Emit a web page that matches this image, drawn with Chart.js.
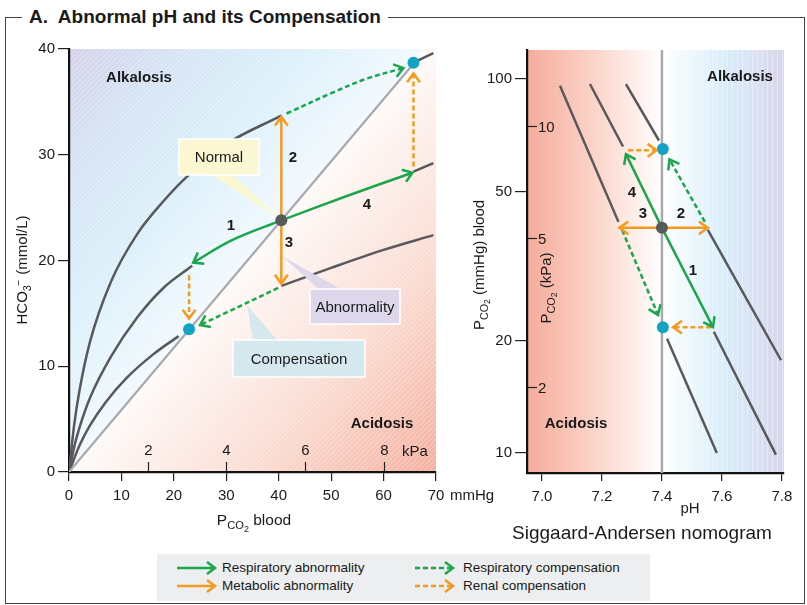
<!DOCTYPE html>
<html>
<head>
<meta charset="utf-8">
<script src="https://cdn.jsdelivr.net/npm/chart.js@4.4.1/dist/chart.umd.min.js"></script>
<style>
body{margin:0;background:#fff;font-family:"Liberation Sans",Arial,sans-serif;color:#1a1a1a}
#wrap{position:relative;width:807px;height:605px;overflow:hidden}
canvas{position:absolute;left:0;top:0}
.t{position:absolute;white-space:nowrap;width:300px;height:22px;margin-left:-150px;margin-top:-11px;text-align:center;font-size:15px;line-height:22px;color:#1a1a1a}
.b{font-weight:bold}
.r{transform:rotate(-90deg)}
.sub{font-size:0.72em;position:relative;top:0.35em}
.sub2{font-size:0.8em;position:relative;top:0.3em}
#frame{position:absolute;left:5px;top:17px;width:800px;height:587px;border:1.5px solid #444;box-sizing:border-box}
#title{position:absolute;left:22px;top:5px;background:#fff;padding:0 7px;font-weight:bold;font-size:19px;line-height:23px}
#legend{position:absolute;left:157px;top:554px;width:493px;height:47px;background:#eceeef}
.lg{position:absolute;font-size:13.5px;line-height:16px;margin-top:-8px}
</style>
</head>
<body>
<div id="wrap">
  <div id="frame"></div>
  <div id="title">A.&nbsp; Abnormal pH and its Compensation</div>
  <canvas id="cL" width="807" height="605"></canvas>
  <canvas id="cR" width="807" height="605"></canvas>

  <div class="t r" style="left:22px;top:270px">HCO<span class="sub">3</span><span style="font-size:0.72em;position:relative;top:-0.45em;left:-0.1em">&minus;</span> (mmol/L)</div>
  <div class="t" style="left:254px;top:520px;font-size:15.5px">P<span class="sub">CO<span class="sub2">2</span></span> blood</div>
  <div class="t" style="left:472px;top:495px">mmHg</div>
  <div class="t b" style="left:139px;top:77px">Alkalosis</div>
  <div class="t b" style="left:382px;top:423px">Acidosis</div>
  <div class="t" style="left:415px;top:451px">kPa</div>
  <div class="t b" style="left:231px;top:225px">1</div>
  <div class="t b" style="left:293px;top:157px">2</div>
  <div class="t b" style="left:289px;top:242px">3</div>
  <div class="t b" style="left:367px;top:204px">4</div>

  <div class="t r" style="left:479px;top:265px">P<span class="sub">CO<span class="sub2">2</span></span> (mmHg) blood</div>
  <div class="t r" style="left:546px;top:288px">P<span class="sub">CO<span class="sub2">2</span></span> (kPa)</div>
  <div class="t b" style="left:740px;top:76px">Alkalosis</div>
  <div class="t b" style="left:576px;top:423px">Acidosis</div>
  <div class="t b" style="left:693px;top:270px">1</div>
  <div class="t b" style="left:681px;top:213px">2</div>
  <div class="t b" style="left:643px;top:213px">3</div>
  <div class="t b" style="left:632px;top:192px">4</div>
  <div class="t" style="left:690px;top:508px">pH</div>
  <div class="t" style="left:642px;top:533px;font-size:19px">Siggaard-Andersen nomogram</div>

  <div id="legend">
    <svg width="493" height="47" style="position:absolute;left:0;top:0">
      <g fill="none" stroke-width="2.5">
        <path d="M20 14 H58 M50 8 L58 14 L50 20" stroke="#1aa64a"/>
        <path d="M20 32 H58 M50 26 L58 32 L50 38" stroke="#f49a1f"/>
        <path d="M258 14 H296" stroke="#1aa64a" stroke-dasharray="5 3"/>
        <path d="M288 8 L296 14 L288 20" stroke="#1aa64a"/>
        <path d="M258 32 H296" stroke="#f49a1f" stroke-dasharray="5 3"/>
        <path d="M288 26 L296 32 L288 38" stroke="#f49a1f"/>
      </g>
    </svg>
    <div class="lg" style="left:65px;top:14px">Respiratory abnormality</div>
    <div class="lg" style="left:65px;top:32px">Metabolic abnormality</div>
    <div class="lg" style="left:306px;top:14px">Respiratory compensation</div>
    <div class="lg" style="left:306px;top:32px">Renal compensation</div>
  </div>
</div>

<script>
// ---- left panel: HCO3- (mmol/L) against PCO2 (mmHg) ----
var xTicksL = [0, 10, 20, 30, 40, 50, 60, 70];
var yTicksL = [0, 10, 20, 30, 40];
var kPaTicksL = [2, 4, 6, 8];
var isoLine74 = [[0, 0], [65.7, 38.6]];
var topCurveA = [[0, 0], [1, 4.5], [2, 7.7], [4, 12.3], [8, 18], [13, 22.5], [18, 25.6], [22, 27.7], [30, 31], [40.5, 33.7]];
var topCurveB = [[65.7, 38.7], [69.5, 39.6]];
var midCurveA = [[0, 0], [1, 2.4], [2, 4.2], [4, 7], [8, 10.9], [13, 14.6], [18, 17.4], [23.5, 19.5]];
var midCurveB = [[65.7, 28.4], [69.5, 29.2]];
var lowCurveA = [[0, 0], [2, 2.5], [4, 4.4], [7, 6.6], [11, 8.9], [16, 11.1], [20.9, 12.85]];
var lowCurveB = [[40.5, 17.6], [50, 19.3], [60, 21], [69.5, 22.4]];
var respAbnL1 = [[40.5, 23.8], [31, 21.9], [23.7, 19.8]];
var respAbnL4 = [[40.5, 23.8], [53, 26.1], [65.5, 28.3]];
var metAbnL2 = [[40.5, 23.8], [40.5, 33.6]];
var metAbnL3 = [[40.5, 23.8], [40.5, 17.8]];
var respCompL3 = [[39.9, 17.4], [25, 13.9]];
var respCompL2 = [[41.5, 33.9], [50.4, 35.9], [56.8, 37.2], [63.8, 38.2]];
var renalCompL1 = [[22.9, 18.6], [22.9, 14.5]];
var renalCompL4 = [[65.7, 28.9], [65.7, 37.7]];
var normalL = [[40.5, 23.8]];
var compPointsL = [[22.9, 13.5], [65.7, 38.7]];

// ---- right panel: Siggaard-Andersen, PCO2 (mmHg, log) against pH ----
var xTicksR = [7.0, 7.2, 7.4, 7.6, 7.8];
var yTicksR = [10, 20, 50, 100];
var kPaTicksR = [10, 5, 2];
var normalPH = [[7.4, 8.84], [7.4, 119.6]];
var bufA = [[7.06, 96], [7.255, 41.5]];
var bufB = [[7.16, 97], [7.27, 66]];
var bufC = [[7.28, 97], [7.39, 68.5]];
var bufD = [[7.553, 39.5], [7.797, 17.7]];
var bufE = [[7.573, 21.1], [7.78, 9.9]];
var bufF = [[7.417, 20.2], [7.583, 10]];
var respAbnR1 = [[7.4, 40], [7.57, 21.7]];
var respAbnR4 = [[7.4, 40], [7.28, 63]];
var metAbnR2 = [[7.4, 40], [7.553, 40]];
var metAbnR3 = [[7.4, 40], [7.258, 40]];
var respCompR2 = [[7.543, 41.5], [7.425, 61]];
var respCompR3 = [[7.267, 39.5], [7.387, 23.4]];
var renalCompR1 = [[7.565, 21.7], [7.437, 21.7]];
var renalCompR4 = [[7.287, 64.5], [7.382, 64.5]];
var normalR = [[7.4, 40]];
var compPointsR = [[7.403, 65], [7.403, 21.7]];

var GREEN = '#1aa64a', ORANGE = '#f49a1f', CURVE = '#58595b', GREY = '#a7a9ac', CYAN = '#12a2c4';

Chart.defaults.font.family = '"Liberation Sans", Arial, sans-serif';
Chart.defaults.color = '#1a1a1a';

function xy(a) {
  return a.map(function (p) { return { x: p[0], y: p[1] }; });
}

function curve(a, color, w) {
  return { data: xy(a), showLine: true, borderColor: color, borderWidth: w || 2.5, pointRadius: 0,
    cubicInterpolationMode: 'monotone', layer: 'curve', order: 5 };
}

function arrow(a, color, dashed) {
  return { data: xy(a), showLine: true, borderColor: color, borderWidth: 2.5, pointRadius: 0,
    tension: 0.35, borderDash: dashed ? [5, 3] : [], arrow: true, layer: 'arrow', order: 2 };
}

function dots(a, color) {
  return { data: xy(a), showLine: false, pointRadius: 6, pointBackgroundColor: color,
    pointBorderWidth: 0, layer: 'point', order: 1 };
}

function hatch(kind) {
  var c = document.createElement('canvas');
  c.width = 5; c.height = 5;
  var g = c.getContext('2d');
  g.strokeStyle = 'rgba(255,255,255,0.35)';
  g.lineWidth = 1;
  g.beginPath();
  if (kind === 'diag') { g.moveTo(0, 5); g.lineTo(5, 0); }
  else { g.moveTo(2.5, 0); g.lineTo(2.5, 5); }
  g.stroke();
  return c;
}

var arrowHeads = {
  id: 'arrowHeads',
  afterDatasetsDraw: function (chart) {
    var ctx = chart.ctx;
    chart.data.datasets.forEach(function (ds, i) {
      if (!ds.arrow) return;
      var pts = chart.getDatasetMeta(i).data;
      var a = pts[pts.length - 2], b = pts[pts.length - 1];
      var ang = Math.atan2(b.y - a.y, b.x - a.x), L = 11, w = 0.62;
      ctx.save();
      ctx.strokeStyle = ds.borderColor;
      ctx.lineWidth = ds.borderWidth;
      ctx.beginPath();
      ctx.moveTo(b.x - L * Math.cos(ang - w), b.y - L * Math.sin(ang - w));
      ctx.lineTo(b.x, b.y);
      ctx.lineTo(b.x - L * Math.cos(ang + w), b.y - L * Math.sin(ang + w));
      ctx.stroke();
      ctx.restore();
    });
  }
};

// callout boxes sit above the curves but under the arrows
function callout(ctx, box, tip, base, fill, text) {
  ctx.save();
  ctx.fillStyle = fill;
  ctx.strokeStyle = '#fff';
  ctx.lineWidth = 1.5;
  ctx.beginPath();
  ctx.moveTo(base[0], base[1]); ctx.lineTo(tip[0], tip[1]); ctx.lineTo(base[2], base[3]);
  ctx.closePath();
  ctx.fill();
  ctx.fillRect(box[0], box[1], box[2], box[3]);
  ctx.strokeRect(box[0], box[1], box[2], box[3]);
  ctx.fillStyle = '#1a1a1a';
  ctx.font = '15px "Liberation Sans", Arial, sans-serif';
  ctx.textAlign = 'center';
  ctx.textBaseline = 'middle';
  ctx.fillText(text, box[0] + box[2] / 2, box[1] + box[3] / 2 + 1);
  ctx.restore();
}

var leftDeco = {
  id: 'leftDeco',
  beforeDraw: function (chart) {
    var ca = chart.chartArea, ctx = chart.ctx, xs = chart.scales.x, ys = chart.scales.y;
    var p0 = { x: xs.getPixelForValue(isoLine74[0][0]), y: ys.getPixelForValue(isoLine74[0][1]) };
    var p1 = { x: xs.getPixelForValue(isoLine74[1][0]), y: ys.getPixelForValue(isoLine74[1][1]) };
    var dx = p1.x - p0.x, dy = p1.y - p0.y, len = Math.hypot(dx, dy);
    var nx = dy / len, ny = -dx / len;
    var xt = p0.x + (ca.top - p0.y) / dy * dx;
    var dB = (ca.left - p0.x) * nx + (ca.top - p0.y) * ny;
    var gB = ctx.createLinearGradient(p0.x, p0.y, p0.x + nx * dB, p0.y + ny * dB);
    gB.addColorStop(0, '#f2f9fe');
    gB.addColorStop(0.35, '#dcf0fb');
    gB.addColorStop(0.7, '#d6e4f4');
    gB.addColorStop(1, '#d5d2ea');
    var dP = (ca.right - p0.x) * -nx + (ca.bottom - p0.y) * -ny;
    var gP = ctx.createLinearGradient(p0.x, p0.y, p0.x - nx * dP, p0.y - ny * dP);
    gP.addColorStop(0, '#fefaf8');
    gP.addColorStop(0.5, '#fbdcd2');
    gP.addColorStop(1, '#f5b09f');
    ctx.save();
    ctx.fillStyle = gB;
    ctx.beginPath();
    ctx.moveTo(ca.left, ca.bottom); ctx.lineTo(ca.left, ca.top); ctx.lineTo(xt, ca.top);
    ctx.closePath(); ctx.fill();
    ctx.fillStyle = gP;
    ctx.beginPath();
    ctx.moveTo(ca.left, ca.bottom); ctx.lineTo(xt, ca.top); ctx.lineTo(ca.right, ca.top); ctx.lineTo(ca.right, ca.bottom);
    ctx.closePath(); ctx.fill();
    ctx.fillStyle = ctx.createPattern(hatch('diag'), 'repeat');
    ctx.fillRect(ca.left, ca.top, ca.right - ca.left, ca.bottom - ca.top);
    // kPa scale along the bottom
    ctx.strokeStyle = '#222';
    ctx.lineWidth = 1.2;
    ctx.fillStyle = '#1a1a1a';
    ctx.font = '15px "Liberation Sans", Arial, sans-serif';
    ctx.textAlign = 'center';
    ctx.textBaseline = 'middle';
    kPaTicksL.forEach(function (k) {
      var px = Math.round(xs.getPixelForValue(k * 7.5)) + 0.5;
      ctx.beginPath(); ctx.moveTo(px, ca.bottom); ctx.lineTo(px, ca.bottom - 10); ctx.stroke();
      ctx.fillText(String(k), px, ca.bottom - 21);
    });
    ctx.restore();
  },
  beforeDatasetsDraw: function (chart) { chart.$boxes = false; },
  beforeDatasetDraw: function (chart, args) {
    if (chart.$boxes || args.meta._dataset.layer === 'curve') return;
    chart.$boxes = true;
    var ctx = chart.ctx, xs = chart.scales.x, ys = chart.scales.y;
    var n = [xs.getPixelForValue(normalL[0][0]), ys.getPixelForValue(normalL[0][1])];
    callout(ctx, [179, 139, 80, 36], n, [212, 175, 233, 175], '#fcf7d3', 'Normal');
    callout(ctx, [310, 289, 90, 35], [282, 256], [320, 290, 342, 290], '#dcd7ea', 'Abnormality');
    callout(ctx, [233, 340, 132, 37], [247, 305], [253, 341, 278, 341], '#d4e8ee', 'Compensation');
  }
};

var rightDeco = {
  id: 'rightDeco',
  beforeDraw: function (chart) {
    var ca = chart.chartArea, ctx = chart.ctx, xs = chart.scales.x, ys = chart.scales.y;
    var w = ca.right - ca.left;
    var f = (xs.getPixelForValue(normalPH[0][0]) - ca.left) / w;
    var g = ctx.createLinearGradient(ca.left, 0, ca.right, 0);
    g.addColorStop(0, '#f5ac9b');
    g.addColorStop(f * 0.5, '#fbd4c9');
    g.addColorStop(f, '#ffffff');
    g.addColorStop(f + (1 - f) * 0.5, '#d9eefa');
    g.addColorStop(1, '#d9d5eb');
    ctx.save();
    ctx.fillStyle = g;
    ctx.fillRect(ca.left, ca.top, w, ca.bottom - ca.top);
    var x74 = ca.left + f * w;
    ctx.fillStyle = ctx.createPattern(hatch('vert'), 'repeat');
    ctx.fillRect(x74, ca.top, ca.right - x74, ca.bottom - ca.top);
    // kPa scale inside the left edge
    ctx.strokeStyle = '#222';
    ctx.lineWidth = 1.2;
    ctx.fillStyle = '#1a1a1a';
    ctx.font = '15px "Liberation Sans", Arial, sans-serif';
    ctx.textAlign = 'left';
    ctx.textBaseline = 'middle';
    kPaTicksR.forEach(function (k) {
      var py = Math.round(ys.getPixelForValue(k * 7.5)) + 0.5;
      ctx.beginPath(); ctx.moveTo(ca.left, py); ctx.lineTo(ca.left + 10, py); ctx.stroke();
      ctx.fillText(String(k), ca.left + 11, py + 1);
    });
    ctx.restore();
  }
};

function axis(min, max, ticks, tickLen, pad, fit, isY, fmt) {
  return {
    type: 'linear', min: min, max: max,
    afterBuildTicks: function (s) { s.ticks = ticks.map(function (v) { return { value: v }; }); },
    afterFit: function (s) { if (isY) s.width = fit; else s.height = fit; },
    grid: { display: true, drawOnChartArea: false, drawTicks: true, tickLength: tickLen, color: '#222', lineWidth: 1.2 },
    border: { display: true, color: '#111', width: 2.2 },
    ticks: { font: { size: 15 }, padding: pad, maxRotation: 0, autoSkip: false, color: '#1a1a1a',
      callback: fmt || function (v) { return String(v); } }
  };
}

var common = {
  responsive: false, animation: false, events: [],
  plugins: { legend: { display: false }, tooltip: { enabled: false } }
};

new Chart(document.getElementById('cL'), {
  type: 'scatter',
  data: {
    datasets: [
      curve(isoLine74, GREY, 2.2),
      curve(topCurveA, CURVE), curve(topCurveB, CURVE),
      curve(midCurveA, CURVE), curve(midCurveB, CURVE),
      curve(lowCurveA, CURVE), curve(lowCurveB, CURVE),
      arrow(respAbnL1, GREEN), arrow(respAbnL4, GREEN),
      arrow(metAbnL2, ORANGE), arrow(metAbnL3, ORANGE),
      arrow(respCompL3, GREEN, true), arrow(respCompL2, GREEN, true),
      arrow(renalCompL1, ORANGE, true), arrow(renalCompL4, ORANGE, true),
      dots(normalL, '#58595b'), dots(compPointsL, CYAN)
    ]
  },
  options: Object.assign({}, common, {
    layout: { padding: { left: 24, right: 371, top: 49, bottom: 103 } },
    scales: {
      x: axis(0, 70, xTicksL, 9, 6, 30, false),
      y: axis(0, 40, yTicksL, 11, 3, 45, true)
    }
  }),
  plugins: [leftDeco, arrowHeads]
});

var yR = axis(8.84, 119.6, yTicksR, 12, 3, 50, true);
yR.type = 'logarithmic';

new Chart(document.getElementById('cR'), {
  type: 'scatter',
  data: {
    datasets: [
      curve(normalPH, GREY, 2.5),
      curve(bufA, CURVE), curve(bufB, CURVE), curve(bufC, CURVE),
      curve(bufD, CURVE), curve(bufE, CURVE), curve(bufF, CURVE),
      arrow(respAbnR1, GREEN), arrow(respAbnR4, GREEN),
      arrow(metAbnR2, ORANGE), arrow(metAbnR3, ORANGE),
      arrow(respCompR2, GREEN, true), arrow(respCompR3, GREEN, true),
      arrow(renalCompR1, ORANGE, true), arrow(renalCompR4, ORANGE, true),
      dots(normalR, '#58595b'), dots(compPointsR, CYAN)
    ]
  },
  options: Object.assign({}, common, {
    layout: { padding: { left: 477, right: 23, top: 50, bottom: 102 } },
    scales: {
      x: axis(6.95, 7.807, xTicksR, 8, 7, 30, false, function (v) { return v.toFixed(1); }),
      y: yR
    }
  }),
  plugins: [rightDeco, arrowHeads]
});
</script>
</body>
</html>
